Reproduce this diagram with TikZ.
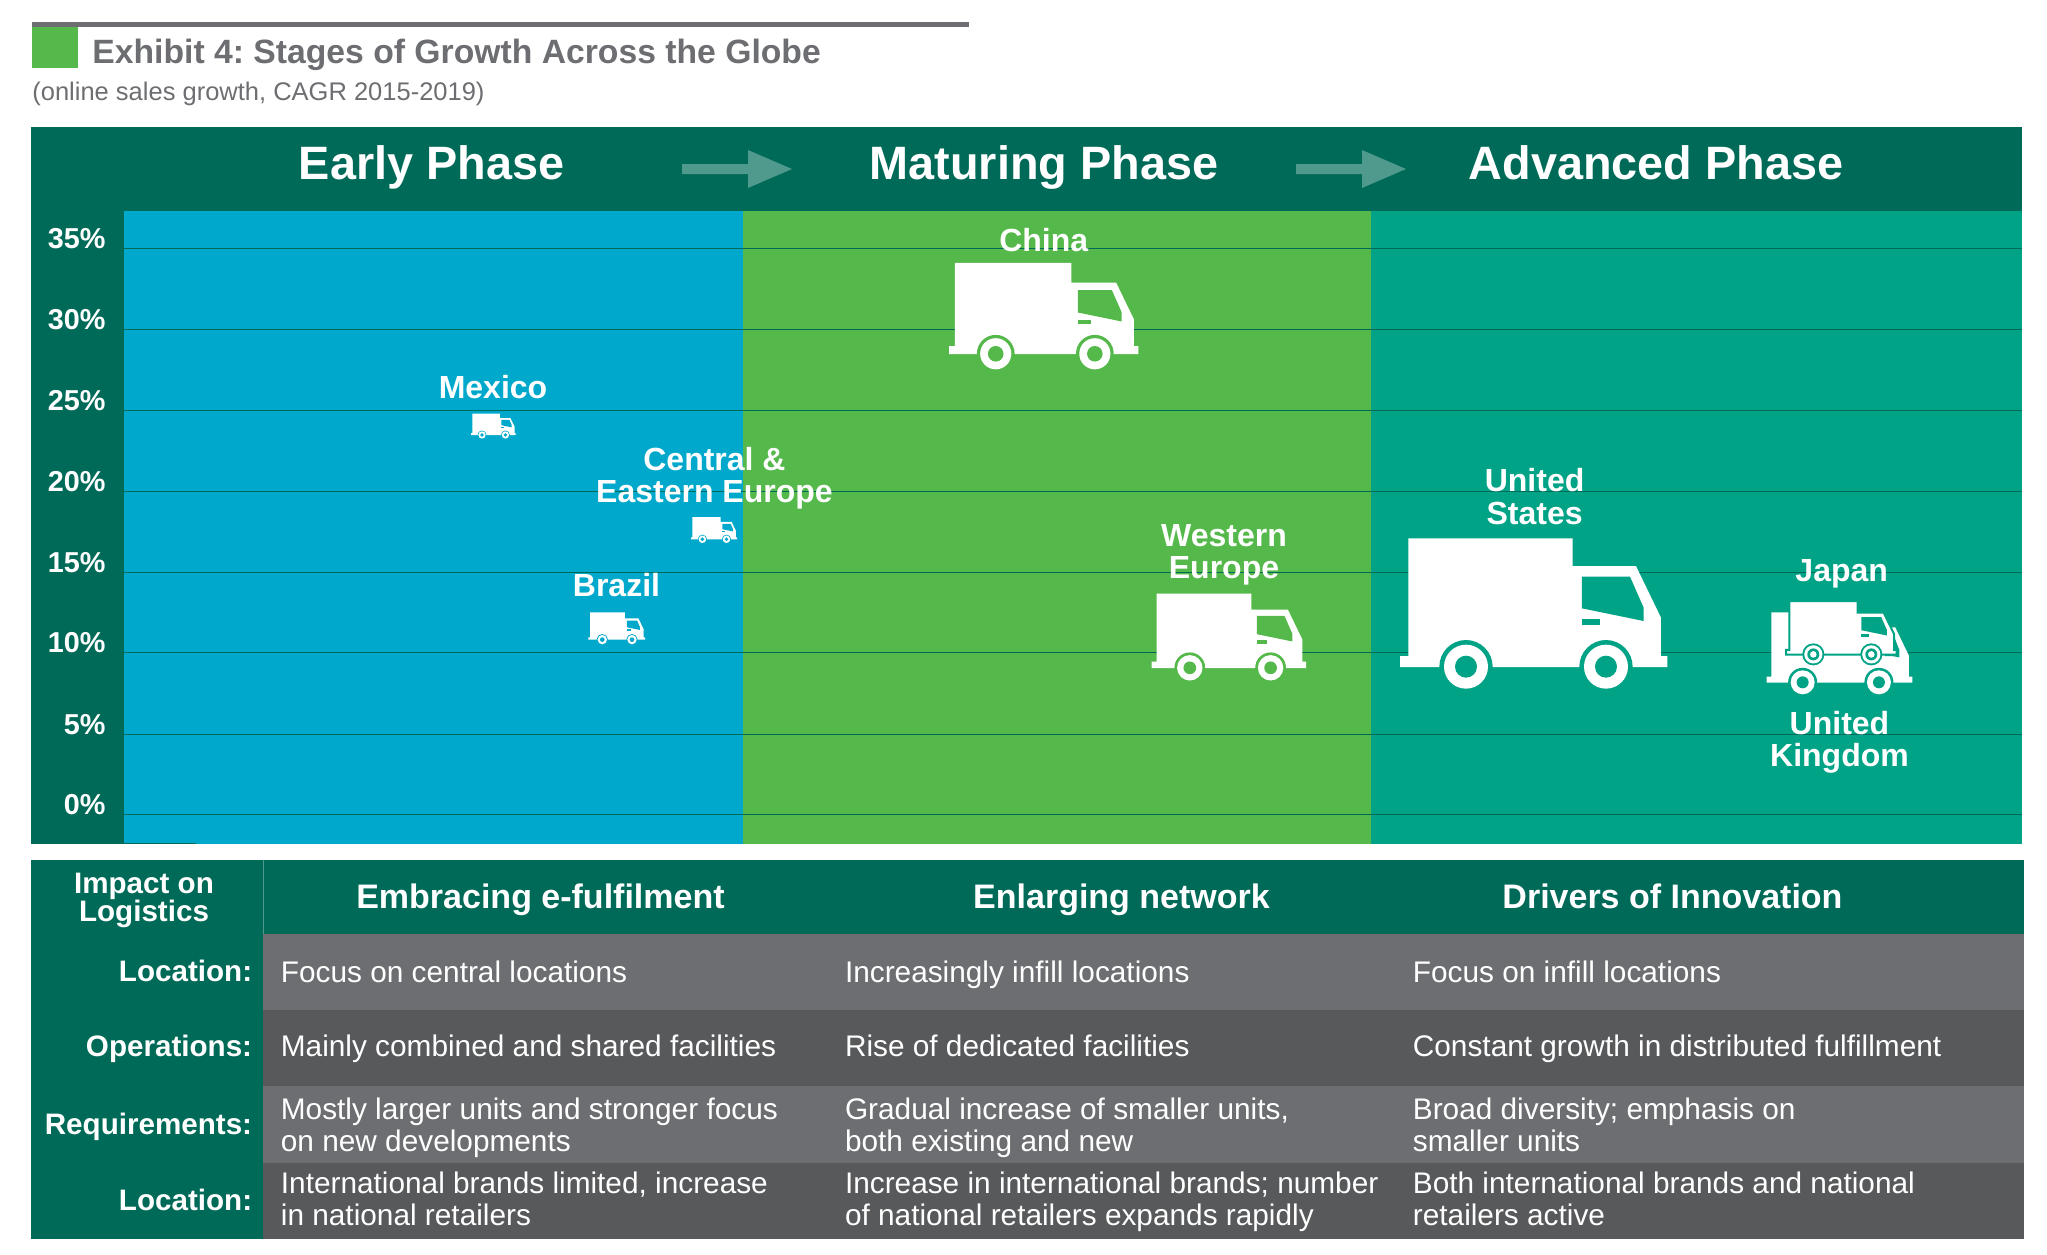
\documentclass[tikz,border=0pt]{standalone}
\usepackage{fontspec}
\setmainfont{Liberation Sans}
\usepackage{tikz}
\frenchspacing
\definecolor{darkteal}{HTML}{006A58}
\definecolor{earlyblue}{HTML}{00A8CC}
\definecolor{maturegreen}{HTML}{55B84A}
\definecolor{advteal}{HTML}{00A386}
\definecolor{rowlight}{HTML}{6D6E71}
\definecolor{rowdark}{HTML}{58595B}
\definecolor{arrowteal}{HTML}{4F9A8C}
\newcommand{\sizept}[2]{\fontsize{#1}{#2}\selectfont}
\newcommand{\truck}[5]{
\begin{scope}[shift={(#1,#2)},scale=#3]
\begin{scope}[shift={(-60,-438)}]
\filldraw [fill=white,#5] (85,52) -- (578,52) -- (578,135) -- (768,135) -- (843,290) -- (843,405) -- (862,405) -- (862,438) -- (60,438) -- (60,405) -- (85,405) -- cycle;
\fill [#4] (606,167) -- (750,167) -- (791,260) -- (791,300) -- (606,262) -- cycle;
\fill [#4] (606,293) rectangle (660,311);
\fill [#4] (258,437) circle (80);
\fill [#4] (678,437) circle (80);
\fill [white] (258,437) circle (66);
\fill [white] (678,437) circle (66);
\fill [#4] (258,437) circle (33);
\fill [#4] (678,437) circle (33);
\end{scope}
\end{scope}
}
\begin{document}
\begin{tikzpicture}[x=0.5pt,y=-0.5pt]
\tikzstyle{every node}+=[inner sep=0pt,text=white]
\tikzstyle{phasename}=[anchor=base,font=\bfseries\sizept{23.4}{24}]
\tikzstyle{percent}=[anchor=base east,font=\bfseries\sizept{14.4}{16}]
\tikzstyle{place}=[anchor=base,align=center,font=\bfseries\sizept{16}{16.2}]
\tikzstyle{rowname}=[anchor=base east,font=\bfseries\sizept{14.8}{16}]
\tikzstyle{headname}=[anchor=base,font=\bfseries\sizept{17}{18}]
\tikzstyle{cell}=[anchor=base west,align=left,font=\sizept{14.9}{16}]
\useasboundingbox (0,0) rectangle (2047,1254);
\fill [rowlight] (32,22) rectangle (969,26.5);
\fill [maturegreen] (32,27) rectangle (78,68);
\node [anchor=base west,text=rowlight,font=\bfseries\sizept{16.85}{18}] (title) at (92,63.5) {Exhibit 4: Stages of Growth Across the Globe};
\node [anchor=base west,text=rowlight,font=\sizept{12.75}{14}] (subtitle) at (32,100.5) {(online sales growth, CAGR 2015-2019)};
\fill [darkteal] (31,126.5) rectangle (2022,844);
\fill [earlyblue] (124,211) rectangle (743,844);
\fill [maturegreen] (743,211) rectangle (1371,844);
\fill [advteal] (1371,211) rectangle (2022,844);
\foreach \x in {0,614} {
\fill [arrowteal] (682+\x,164) -- (748+\x,164) -- (748+\x,150) -- (792+\x,169) -- (748+\x,188) -- (748+\x,174) -- (682+\x,174) -- cycle;
}
\node [phasename] (early) at (431.5,179.5) {Early Phase};
\node [phasename] (maturing) at (1044,179.5) {Maturing Phase};
\node [phasename] (advanced) at (1656,179.5) {Advanced Phase};
\foreach \v/\y in {35/248.5,30/329.5,25/410,20/491,15/572,10/652.5,5/734,0/814.5} {
\draw [darkteal,line width=0.5pt] (124,\y) -- (2022,\y);
\node [percent] (p\v) at (106,\y) {\v\%};
}
\draw [darkteal,line width=0.5pt] (124,843.5) -- (196,843.5);
\truck{949}{354}{0.236}{maturegreen}{draw=none}
\truck{471}{435}{0.0557}{earlyblue}{draw=none}
\truck{691}{539.3}{0.0574}{earlyblue}{draw=none}
\truck{588.3}{639.7}{0.0707}{earlyblue}{draw=none}
\truck{1151.7}{668}{0.1924}{maturegreen}{draw=none}
\truck{1400}{667}{0.3333}{advteal}{draw=none}
\truck{1766.7}{682.5}{0.1816}{advteal}{draw=none}
\fill [advteal] (1885,626.7) -- (1890.7,626.7) -- (1899,650) -- (1897,656) -- (1885,656) -- cycle;
\truck{1786}{654.5}{0.138}{advteal}{draw=advteal,line width=1pt}
\fill [advteal] (1813.3,654.4) circle (6);
\fill [advteal] (1871.3,654.4) circle (6);
\fill [white] (1813.3,654.4) circle (3.3);
\fill [white] (1871.3,654.4) circle (3.3);
\node [place] (china) at (1043.7,251.7) {China};
\node [place] (mexico) at (493,398) {Mexico};
\node [place] (cee) at (714.5,502.5) {Central \&\\Eastern Europe};
\node [place] (brazil) at (616.5,596) {Brazil};
\node [place] (us) at (1534.6,524.2) {United\\States};
\node [place] (weu) at (1224,578.8) {Western\\Europe};
\node [place] (japan) at (1841.7,581) {Japan};
\node [place] (uk) at (1839.5,766.5) {United\\Kingdom};
\fill [darkteal] (31,860) rectangle (2024,1239);
\fill [rowlight] (263,934) rectangle (2024,1010);
\fill [rowdark] (263,1010) rectangle (2024,1086);
\fill [rowlight] (263,1086) rectangle (2024,1163);
\fill [rowdark] (263,1163) rectangle (2024,1239);
\draw [arrowteal,line width=0.4pt] (263,860) -- (263,934);
\node [anchor=base,align=center,font=\bfseries\sizept{14.8}{14}] (impact) at (144,921) {Impact on\\Logistics};
\node [headname] (head1) at (540.5,908.7) {Embracing e-fulfilment};
\node [headname] (head2) at (1121.5,908.7) {Enlarging network};
\node [headname] (head3) at (1672.5,908.7) {Drivers of Innovation};
\node [rowname] (loc1) at (252.5,981.7) {Location:};
\node [rowname] (oper) at (252.5,1056) {Operations:};
\node [rowname] (reqs) at (252.5,1134) {Requirements:};
\node [rowname] (loc2) at (252.5,1210) {Location:};
\node [cell] (a1) at (280.5,982.7) {Focus on central locations};
\node [cell] (a2) at (844.6,982.7) {Increasingly infill locations};
\node [cell] (a3) at (1412.5,982.7) {Focus on infill locations};
\node [cell] (b1) at (280.5,1056) {Mainly combined and shared facilities};
\node [cell] (b2) at (844.6,1056) {Rise of dedicated facilities};
\node [cell] (b3) at (1412.5,1056) {Constant growth in distributed fulfillment};
\node [cell] (c1) at (280.5,1151) {Mostly larger units and stronger focus\\on new developments};
\node [cell] (c2) at (844.6,1151) {Gradual increase of smaller units,\\both existing and new};
\node [cell] (c3) at (1412.5,1151) {Broad diversity; emphasis on\\smaller units};
\node [cell] (d1) at (280.5,1225.3) {International brands limited, increase\\in national retailers};
\node [cell] (d2) at (844.6,1225.3) {Increase in international brands; number\\of national retailers expands rapidly};
\node [cell] (d3) at (1412.5,1225.3) {Both international brands and national\\retailers active};
\end{tikzpicture}
\end{document}
